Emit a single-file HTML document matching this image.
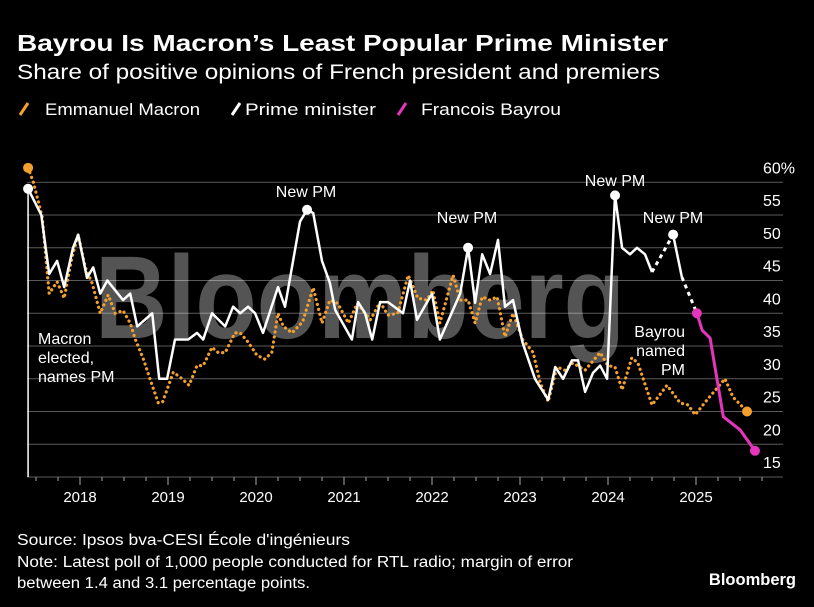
<!DOCTYPE html>
<html><head><meta charset="utf-8">
<style>
body{margin:0;background:#000;width:814px;height:607px;overflow:hidden;font-family:"Liberation Sans","DejaVu Sans",sans-serif;color:#fff}
svg{position:absolute;left:0;top:0}
</style></head>
<body>
<svg id="chart" width="814" height="607">
<text x="17" y="51" font-size="23" font-weight="bold" fill="#fff" textLength="651" lengthAdjust="spacingAndGlyphs">Bayrou Is Macron’s Least Popular Prime Minister</text>
<text x="17" y="79" font-size="21" fill="#fff" textLength="643" lengthAdjust="spacingAndGlyphs">Share of positive opinions of French president and premiers</text>
<g>
<g><line x1="20" y1="115" x2="28" y2="103" stroke="#f5a02c" stroke-width="3"/><text x="45" y="115" font-size="17" fill="#fff" textLength="155" lengthAdjust="spacingAndGlyphs">Emmanuel Macron</text></g>
<g><line x1="232" y1="115" x2="240" y2="103" stroke="#fff" stroke-width="3"/><text x="245" y="115" font-size="17" fill="#fff" textLength="131" lengthAdjust="spacingAndGlyphs">Prime minister</text></g>
<g><line x1="398" y1="115" x2="406" y2="103" stroke="#e535bd" stroke-width="3"/><text x="421" y="115" font-size="17" fill="#fff" textLength="140" lengthAdjust="spacingAndGlyphs">Francois Bayrou</text></g>
</g>
<g id="grid"></g>
<text x="360" y="338" font-size="118" font-weight="bold" fill="#ffffff" fill-opacity="0.33" text-anchor="middle" textLength="530" lengthAdjust="spacingAndGlyphs">Bloomberg</text>
<g id="marks"></g>
<g id="annot" font-size="16" fill="#fff">
<text x="306" y="197" text-anchor="middle">New PM</text>
<text x="467" y="223" text-anchor="middle">New PM</text>
<text x="615" y="186" text-anchor="middle">New PM</text>
<text x="673" y="223" text-anchor="middle">New PM</text>
<g><text x="38" y="344">Macron</text><text x="38" y="363">elected,</text><text x="38" y="382">names PM</text></g>
<g text-anchor="end"><text x="685" y="337">Bayrou</text><text x="685" y="356">named</text><text x="685" y="375">PM</text></g>
</g>
<text x="17" y="545" font-size="15.5" fill="#fff" textLength="333" lengthAdjust="spacingAndGlyphs">Source: Ipsos bva-CESI École d'ingénieurs</text>
<text x="17" y="567" font-size="15.5" fill="#fff" textLength="556" lengthAdjust="spacingAndGlyphs">Note: Latest poll of 1,000 people conducted for RTL radio; margin of error</text>
<text x="17" y="588" font-size="15.5" fill="#fff" textLength="293" lengthAdjust="spacingAndGlyphs">between 1.4 and 3.1 percentage points.</text>
<text x="796" y="585" font-size="16.5" font-weight="bold" fill="#fff" text-anchor="end">Bloomberg</text>
</svg>
<script>
const yTicks=[15,20,25,30,35,40,45,50,55,60];
const yearTicks=[2018,2019,2020,2021,2022,2023,2024,2025];
const macronT=[2017.41,2017.47,2017.57,2017.65,2017.74,2017.82,2017.91,2017.98,2018.06,2018.14,2018.23,2018.32,2018.40,2018.49,2018.57,2018.63,2018.72,2018.80,2018.89,2018.94,2019.06,2019.16,2019.24,2019.33,2019.40,2019.50,2019.57,2019.65,2019.76,2019.82,2019.91,2020.01,2020.10,2020.18,2020.25,2020.31,2020.41,2020.53,2020.65,2020.75,2020.84,2020.93,2021.05,2021.15,2021.30,2021.41,2021.50,2021.61,2021.73,2021.84,2021.94,2022.01,2022.09,2022.24,2022.32,2022.41,2022.49,2022.57,2022.66,2022.74,2022.83,2022.92,2023.03,2023.15,2023.23,2023.32,2023.42,2023.51,2023.60,2023.74,2023.91,2024.00,2024.08,2024.16,2024.27,2024.34,2024.50,2024.67,2024.82,2024.91,2024.99,2025.14,2025.33,2025.42,2025.58];
const macronV=[62.2,60,54.7,43,44.8,42.3,48.6,52,47,44.5,40,42.8,40,40.4,38.5,36,33,29.8,26.3,26.5,31,30,29,32,32,34.8,34,34,37,37,35.6,33.6,33,34,40,38,37,38.7,43.9,38.5,42,41.5,38.5,41.5,39,41.7,39.7,40,45.8,42.3,42,43.5,38.5,45.8,42,42,38.5,42.5,42,42.5,36.4,40,36,34,29.4,26.5,31.8,31.3,32.4,31.3,34,32,31.8,28.3,33.2,32.4,26,29,26.3,26,24.5,27,30,27.2,25];
const pmT=[2017.41,2017.56,2017.65,2017.74,2017.82,2017.92,2017.98,2018.08,2018.15,2018.23,2018.31,2018.40,2018.49,2018.57,2018.65,2018.82,2018.90,2018.99,2019.08,2019.23,2019.33,2019.40,2019.50,2019.65,2019.74,2019.82,2019.91,2019.99,2020.08,2020.25,2020.33,2020.50,2020.58,2020.65,2020.75,2020.84,2020.90,2021.09,2021.16,2021.24,2021.32,2021.41,2021.50,2021.67,2021.75,2021.83,2022.00,2022.09,2022.32,2022.41,2022.49,2022.57,2022.66,2022.75,2022.83,2022.92,2023.03,2023.17,2023.32,2023.40,2023.49,2023.59,2023.66,2023.74,2023.83,2023.91,2023.99,2024.08,2024.16,2024.25,2024.33,2024.42,2024.50];
const pmV=[59,55,46,48,44,50,52,45.4,47,43,45,43.5,42,43,38,40,30,30,36,36,37,36,40,38,41,40,41,40,37,44,41,54,55.8,55.3,48,44.6,40.5,36,41.7,40,36,41.7,41.7,40,45,39,43,36,43,50,41.6,49,46,51.2,41,42,35.5,30,26.8,31.8,30,32.8,32.8,28,30.9,32,30,58,50,49,50,49,46.3];
const barnierT=[2024.74,2024.84];
const barnierV=[52,45.5];
const bayrouT=[2025.01,2025.07,2025.16,2025.31,2025.50,2025.67];
const bayrouV=[40,37.4,36.2,24.2,22.2,19];
const pmDotIdx=[0,32,49,67];

const X=t=>80+(t-2018)*88;
const Y=v=>477-(v-15)*6.55;
const NS='http://www.w3.org/2000/svg';
function mk(tag,attrs,parent){const e=document.createElementNS(NS,tag);for(const k in attrs)e.setAttribute(k,attrs[k]);parent.appendChild(e);return e;}
const grid=document.getElementById('grid'),marks=document.getElementById('marks');
yTicks.forEach(v=>{
  const l=mk('line',{x1:27,x2:783,y1:Y(v),y2:Y(v),stroke:'#5a5a5a','stroke-width':1},grid);
  
  
  const t=mk('text',{x:763,y:Y(v)-9,'font-size':16,fill:'#fff'},grid);
  t.textContent=v===60?'60%':String(v);
  
  
});
for(let q=2017.5;q<=2025.76;q+=0.25){
  const big=Math.abs(q-Math.round(q))<0.01;
  const tk=mk('line',{x1:X(q),x2:X(q),y1:477,y2:big?485:481,stroke:'#aaa','stroke-width':1},grid);
  
  
}
yearTicks.forEach(y=>{
  const t=mk('text',{x:X(y),y:502,'font-size':15,fill:'#fff','text-anchor':'middle'},grid);
  t.textContent=y;
  
  
});
const vline=mk('line',{x1:X(macronT[0]),x2:X(macronT[0]),y1:Y(pmV[0]),y2:477,stroke:'#fff','stroke-width':1.5},grid);


function pts(T,V){return T.map((t,i)=>X(t).toFixed(1)+','+Y(V[i]).toFixed(1)).join(' ');}
const mac=mk('polyline',{points:pts(macronT,macronV),fill:'none',stroke:'#f5a02c','stroke-width':3.2,'stroke-dasharray':'0.1 5','stroke-linecap':'round'},marks);


const pm=mk('polyline',{points:pts(pmT,pmV),fill:'none',stroke:'#fff','stroke-width':2.5,'stroke-linejoin':'round'},marks);


const d1=mk('line',{x1:X(pmT[pmT.length-1]),y1:Y(pmV[pmV.length-1]),x2:X(barnierT[0]),y2:Y(barnierV[0]),stroke:'#fff','stroke-width':3,'stroke-dasharray':'4 4'},marks);


const bl=mk('polyline',{points:pts(barnierT,barnierV),fill:'none',stroke:'#fff','stroke-width':2.5},marks);


const d2=mk('line',{x1:X(barnierT[1]),y1:Y(barnierV[1]),x2:X(bayrouT[0]),y2:Y(bayrouV[0]),stroke:'#fff','stroke-width':3,'stroke-dasharray':'4 4'},marks);


const by=mk('polyline',{points:pts(bayrouT,bayrouV),fill:'none',stroke:'#e535bd','stroke-width':3,'stroke-linejoin':'round'},marks);


function dot(t,v,c,name){const d=mk('circle',{cx:X(t),cy:Y(v),r:5,fill:c},marks);
  
  }
dot(macronT[0],macronV[0],'#f5a02c','macron-start-dot');
dot(macronT[macronT.length-1],macronV[macronV.length-1],'#f5a02c','macron-end-dot');
pmDotIdx.forEach(i=>dot(pmT[i],pmV[i],'#fff','pm-new-dot'));
dot(barnierT[0],barnierV[0],'#fff','pm-new-dot');
dot(bayrouT[0],bayrouV[0],'#e535bd','bayrou-start-dot');
dot(bayrouT[bayrouT.length-1],bayrouV[bayrouV.length-1],'#e535bd','bayrou-end-dot');
</script>
</body></html>
